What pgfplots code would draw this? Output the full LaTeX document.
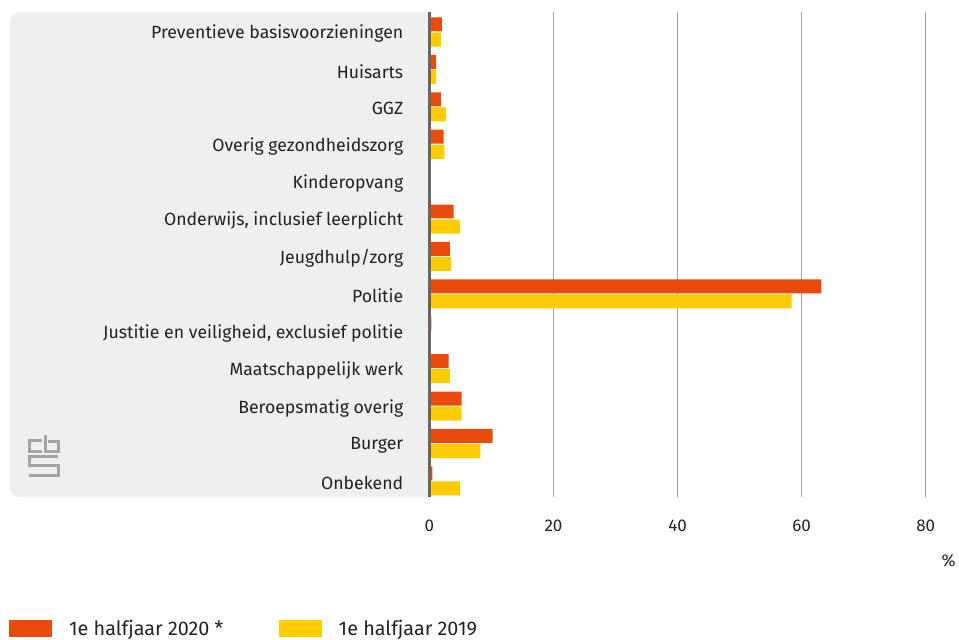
\documentclass[border=0pt]{standalone}
\usepackage{fontspec}
\setmainfont{Fira Sans}
\usepackage{pgfplots}
\pgfplotsset{compat=1.18}
\definecolor{cbsorange}{HTML}{E94C0A}
\definecolor{cbsyellow}{HTML}{FFCC00}
\definecolor{bggrey}{HTML}{EFEFEF}
\definecolor{gridgrey}{HTML}{A0A0A0}
\definecolor{axisgrey}{HTML}{666666}
\definecolor{txt}{HTML}{222222}
\definecolor{logogrey}{HTML}{A4A4A4}
\begin{document}
\begin{tikzpicture}
\begin{scope}[x=1pt,y=1pt]
\path[use as bounding box] (0,0) rectangle (959,639);
% grey background panel
\fill[bggrey] (430,141) [rounded corners=10pt] -- (10,141) -- (10,627) [sharp corners] -- (430,627) -- cycle;
% cbs logo (decorative)
\begin{scope}[logogrey, line width=2.8pt, double=bggrey, double distance=1.2pt, line cap=butt, line join=miter]
\draw (42,639-441) -- (29.5,639-441) -- (29.5,639-452) -- (42,639-452);
\draw (45.5,639-436) -- (45.5,639-452) -- (58.5,639-452) -- (58.5,639-442.5) -- (48,639-442.5);
\draw (58.5,639-457) -- (29.5,639-457) -- (29.5,639-466.5) -- (58.5,639-466.5) -- (58.5,639-476) -- (29.5,639-476);
\end{scope}
\end{scope}
\begin{axis}[
  at={(430pt,141pt)}, anchor=south west,
  scale only axis, width=497pt, height=486pt,
  xmin=0, xmax=80, ymin=-0.44, ymax=12.534,
  xbar, bar width=14pt,
  axis line style={draw=none},
  major tick length=0pt,
  xmajorgrids, grid style={gridgrey, line width=1.2pt},
  xtick={0,20,40,60,80},
  ytick={0,...,12},
  yticklabels={Onbekend, Burger, Beroepsmatig overig, Maatschappelijk werk,
    {Justitie en veiligheid, exclusief politie}, Politie, Jeugdhulp/zorg,
    {Onderwijs, inclusief leerplicht}, Kinderopvang, Overig gezondheidszorg,
    GGZ, Huisarts, Preventieve basisvoorzieningen},
  /pgf/number format/assume math mode=true,
  xticklabel style={anchor=center, inner sep=0pt, yshift=-29pt, font=\fontsize{17}{20}\selectfont, text=txt},
  yticklabel style={anchor=east, inner sep=0pt, xshift=-26pt, yshift=-2pt, font=\fontsize{17.7}{20}\selectfont, text=txt},
  clip=false,
]
\addplot[fill=cbsorange, draw=none, bar shift=7.5pt] coordinates {
  (0.5,0) (10.2,1) (5.2,2) (3.1,3) (0.3,4) (63.2,5) (3.3,6) (3.9,7) (0,8) (2.3,9) (1.9,10) (1.1,11) (2.0,12)};
\addplot[fill=cbsyellow, draw=none, bar shift=-7.6pt] coordinates {
  (4.9,0) (8.2,1) (5.2,2) (3.3,3) (0.2,4) (58.4,5) (3.5,6) (4.9,7) (0,8) (2.4,9) (2.7,10) (1.1,11) (1.9,12)};
\draw[axisgrey, line width=3pt] (rel axis cs:0,0) -- (rel axis cs:0,1);
\end{axis}
\begin{scope}[x=1pt,y=1pt]
\node[anchor=center, text=txt, font=\fontsize{17}{20}\selectfont] at (950,77) {\%};
% legend
\fill[cbsorange] (9,1.3) rectangle (52,18);
\node[anchor=base west, inner sep=0pt, text=txt, font=\fontsize{19.8}{22}\selectfont] at (69,3) {1e halfjaar 2020 *};
\fill[cbsyellow] (279,1.3) rectangle (322,18);
\node[anchor=base west, inner sep=0pt, text=txt, font=\fontsize{19.8}{22}\selectfont] at (339,3) {1e halfjaar 2019};
\end{scope}
\end{tikzpicture}
\end{document}
